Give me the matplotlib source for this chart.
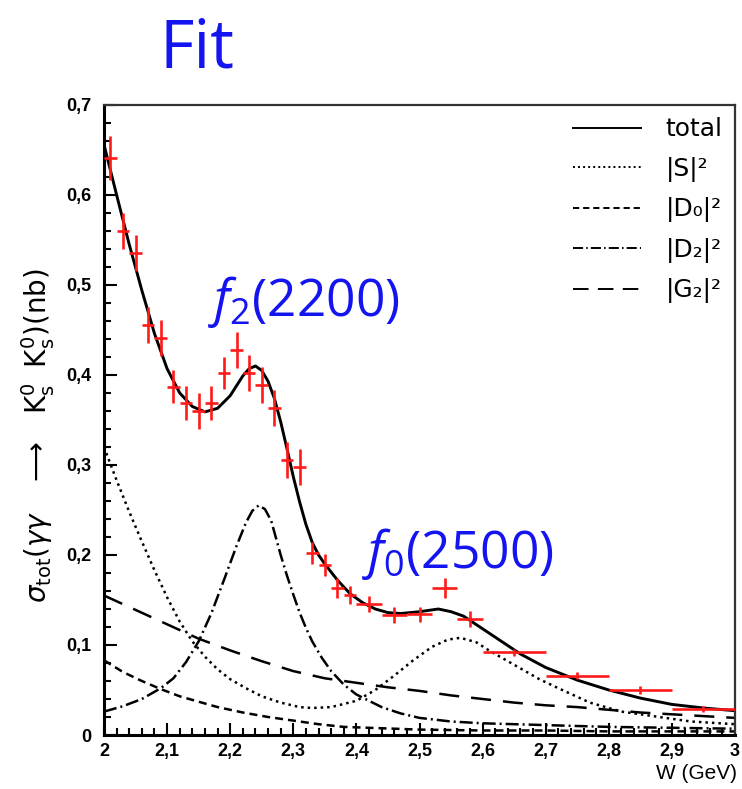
import matplotlib
matplotlib.use("Agg")
import matplotlib.pyplot as plt
from matplotlib.ticker import MultipleLocator, FuncFormatter

plt.rcParams['mathtext.fontset'] = 'custom'
plt.rcParams['mathtext.rm'] = 'Open Sans'
plt.rcParams['mathtext.it'] = 'Open Sans:italic'

# measured cross section, binned in W (GeV)
w_data = [2.01, 2.03, 2.05, 2.07, 2.09, 2.11, 2.13, 2.15, 2.17, 2.19,
          2.21, 2.23, 2.25, 2.27, 2.29, 2.31, 2.33, 2.35, 2.37, 2.39,
          2.42, 2.46, 2.50, 2.54, 2.58,
          2.65, 2.75, 2.85, 2.95]
w_halfbin = [0.01] * 20 + [0.02] * 5 + [0.05] * 4
sigma_data = [0.641, 0.560, 0.535, 0.455, 0.441, 0.387, 0.369, 0.360, 0.369, 0.402,
              0.428, 0.402, 0.389, 0.363, 0.306, 0.298, 0.202, 0.189, 0.163, 0.156,
              0.146, 0.133, 0.134, 0.163, 0.129,
              0.092, 0.066, 0.050, 0.029]
sigma_err = [0.024, 0.020, 0.020, 0.020, 0.020, 0.018, 0.019, 0.020, 0.019, 0.018,
             0.020, 0.020, 0.020, 0.020, 0.020, 0.020, 0.012, 0.012, 0.011, 0.010,
             0.009, 0.009, 0.008, 0.011, 0.009,
             0.004, 0.004, 0.004, 0.003]

# fit: total and partial waves
w_total = [2.00, 2.02, 2.04, 2.06, 2.08, 2.10, 2.12, 2.14, 2.16, 2.18, 2.20, 2.21,
           2.22, 2.23, 2.24, 2.25, 2.26, 2.27, 2.28, 2.29, 2.30, 2.31, 2.32, 2.33,
           2.34, 2.35, 2.37, 2.39, 2.41, 2.43, 2.45, 2.47, 2.50, 2.53, 2.55, 2.57,
           2.60, 2.63, 2.66, 2.70, 2.75, 2.80, 2.85, 2.90, 2.95, 3.00]
total = [0.656, 0.600, 0.545, 0.494, 0.446, 0.407, 0.380, 0.365, 0.359, 0.363, 0.377, 0.388,
         0.399, 0.407, 0.410, 0.405, 0.393, 0.374, 0.348, 0.318, 0.287, 0.259, 0.234, 0.214,
         0.200, 0.190, 0.172, 0.157, 0.147, 0.140, 0.136, 0.135, 0.137, 0.140, 0.137, 0.132,
         0.118, 0.104, 0.090, 0.075, 0.061, 0.050, 0.041, 0.034, 0.030, 0.027]

w_s = [2.00, 2.02, 2.04, 2.06, 2.08, 2.10, 2.12, 2.14, 2.16, 2.18, 2.20, 2.225,
       2.25, 2.28, 2.31, 2.33, 2.36, 2.40, 2.43, 2.46, 2.49, 2.52, 2.545, 2.565,
       2.59, 2.61, 2.64, 2.665, 2.69, 2.72, 2.77, 2.82, 2.88, 2.93, 3.00]
s_wave = [0.320, 0.283, 0.248, 0.215, 0.183, 0.153, 0.126, 0.104, 0.087, 0.073, 0.062, 0.052,
          0.043, 0.036, 0.031, 0.030, 0.031, 0.038, 0.050, 0.066, 0.083, 0.098, 0.106, 0.108,
          0.103, 0.094, 0.082, 0.072, 0.062, 0.052, 0.036, 0.026, 0.020, 0.015, 0.012]

w_d0 = [2.00, 2.03, 2.06, 2.09, 2.12, 2.15, 2.18, 2.22, 2.26, 2.30, 2.34, 2.38,
        2.42, 2.46, 2.50, 2.60, 2.70, 2.80, 2.90, 3.00]
d0_wave = [0.083, 0.070, 0.060, 0.051, 0.043, 0.037, 0.031, 0.025, 0.020, 0.016, 0.012, 0.009,
           0.008, 0.007, 0.006, 0.005, 0.005, 0.004, 0.004, 0.004]

w_d2 = [2.00, 2.03, 2.06, 2.09, 2.11, 2.13, 2.15, 2.17, 2.19, 2.21, 2.225, 2.235,
        2.245, 2.255, 2.265, 2.28, 2.29, 2.30, 2.31, 2.32, 2.33, 2.345, 2.36, 2.38,
        2.40, 2.44, 2.47, 2.50, 2.55, 2.60, 2.70, 2.80, 2.90, 3.00]
d2_wave = [0.026, 0.032, 0.040, 0.052, 0.063, 0.081, 0.104, 0.135, 0.172, 0.210, 0.236, 0.249,
           0.255, 0.251, 0.238, 0.200, 0.177, 0.156, 0.136, 0.119, 0.104, 0.086, 0.071, 0.056,
           0.045, 0.031, 0.024, 0.019, 0.015, 0.013, 0.011, 0.009, 0.008, 0.007]

w_g2 = [2.00, 2.05, 2.10, 2.15, 2.20, 2.25, 2.30, 2.35, 2.40, 2.45, 2.50, 2.55,
        2.60, 2.65, 2.70, 2.75, 2.80, 2.85, 2.90, 2.95, 3.00]
g2_wave = [0.155, 0.139, 0.123, 0.107, 0.094, 0.082, 0.071, 0.063, 0.058, 0.053, 0.049, 0.044,
           0.040, 0.036, 0.033, 0.031, 0.028, 0.025, 0.023, 0.021, 0.019]

legend_labels = ['total', '|S|²', '|D₀|²', '|D₂|²', '|G₂|²']

W, H = 742, 789
fig = plt.figure(figsize=(W / 100, H / 100), dpi=100)
ax = fig.add_axes([104 / W, 1 - 735 / H, 631 / W, 630 / H])

lw = 1.8
l_tot, = ax.plot(w_total, total, color='black', lw=2.1)
l_s, = ax.plot(w_s, s_wave, color='black', lw=lw, ls=(0, (1.0, 1.6)))
l_d0, = ax.plot(w_d0, d0_wave, color='black', lw=lw, ls=(0, (3.2, 2.0)))
l_d2, = ax.plot(w_d2, d2_wave, color='black', lw=lw, ls=(0, (5.2, 1.6, 0.8, 1.6)))
l_g2, = ax.plot(w_g2, g2_wave, color='black', lw=lw, ls=(0, (8.0, 4.8)))

ax.errorbar(w_data, sigma_data, xerr=w_halfbin, yerr=sigma_err, fmt='none',
            ecolor='#ff1a1a', elinewidth=1.9, capsize=0, zorder=5)

ax.set_xlim(2, 3)
ax.set_ylim(0, 0.7)
ax.xaxis.set_major_locator(MultipleLocator(0.1))
ax.xaxis.set_minor_locator(MultipleLocator(0.02))
ax.yaxis.set_major_locator(MultipleLocator(0.1))
ax.yaxis.set_minor_locator(MultipleLocator(0.02))
comma = FuncFormatter(lambda v, p: ('%g' % round(v, 2)).replace('.', ','))
ax.xaxis.set_major_formatter(comma)
ax.yaxis.set_major_formatter(comma)
ax.tick_params(which='both', direction='in', top=False, right=False, width=1.5)
ax.tick_params(which='major', length=9)
ax.tick_params(which='minor', length=5)
ax.tick_params(axis='y', pad=9)
ax.tick_params(axis='x', pad=6)
for lab in ax.get_xticklabels() + ax.get_yticklabels():
    lab.set_fontfamily('Liberation Sans')
    lab.set_fontweight('bold')
    lab.set_fontsize(13)
for side in ['left', 'bottom']:
    ax.spines[side].set_linewidth(2.2)
for side in ['top', 'right']:
    ax.spines[side].set_linewidth(1.6)
    ax.spines[side].set_color('#333333')

ax.set_ylabel(r'$\sigma_{\rm tot}(\gamma\gamma\quad\longrightarrow\;\;\;{\rm K^0_s\;\;K^0_s})({\rm nb})$',
              fontsize=20, math_fontfamily='dejavusans')
ax.yaxis.set_label_coords(-0.075, 0.475)
fig.text(737 / W, 1 - 779 / H, 'W (GeV)', ha='right', va='baseline',
         fontsize=15, family='Liberation Sans')

leg = ax.legend([l_tot, l_s, l_d0, l_d2, l_g2], legend_labels, loc='upper right',
                bbox_to_anchor=(1.0, 1.0), frameon=False, fontsize=18,
                handlelength=2.7, handletextpad=1.0, labelspacing=0.62,
                borderaxespad=0.1)
for h in leg.legend_handles:
    h.set_linewidth(1.4)

blue = '#1414f0'
fig.text(160 / W, 1 - 67 / H, 'Fit', color=blue, fontsize=48,
         family='Open Sans', va='baseline')
fig.text(208 / W, 1 - 316 / H, r'$f_2$(2200)', color=blue, fontsize=37,
         family='Open Sans', va='baseline')
fig.text(362 / W, 1 - 568 / H, r'$f_0$(2500)', color=blue, fontsize=37,
         family='Open Sans', va='baseline')

fig.savefig('out.png', dpi=100)
